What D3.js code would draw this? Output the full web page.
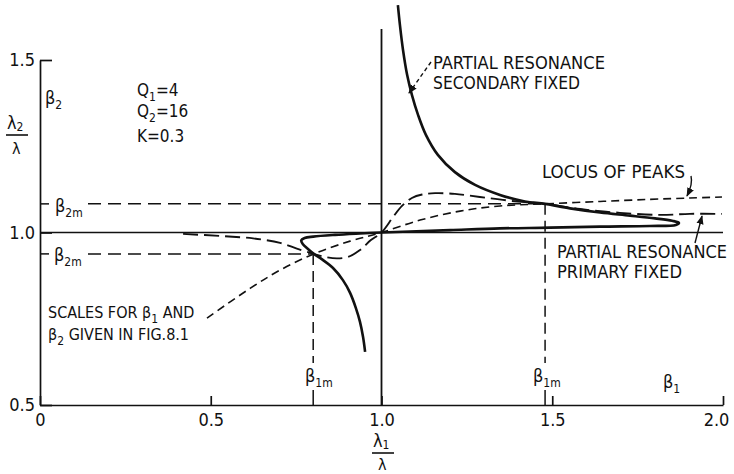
<!DOCTYPE html>
<html>
<head>
<meta charset="utf-8">
<script src="https://cdn.jsdelivr.net/npm/d3@7"></script>
<style>
body { margin: 0; background: #fff; }
svg { display: block; background: #fff; }
text { font-family: "DejaVu Sans Condensed", "Liberation Sans Narrow", "DejaVu Sans", sans-serif; fill: #111; }
</style>
</head>
<body>
<svg id="chart"></svg>
<script>
// points, as [lambda1/lambda, lambda2/lambda]
var secondaryFixed = [
  [1.048,1.659],[1.054,1.601],[1.063,1.529],[1.075,1.457],[1.089,1.399],[1.107,1.341],
  [1.130,1.283],[1.165,1.225],[1.215,1.175],[1.274,1.138],[1.347,1.109],[1.420,1.090],
  [1.479,1.083],[1.552,1.070],[1.640,1.058],[1.728,1.049],[1.801,1.041],[1.851,1.034],
  [1.871,1.028],[1.862,1.022],[1.786,1.019],[1.640,1.017],[1.493,1.014],[1.347,1.012],
  [1.201,1.007],[1.083,1.003],[1.000,1.000],[0.937,0.997],[0.864,0.993],[0.800,0.988],
  [0.775,0.984],[0.765,0.977],[0.770,0.966],[0.784,0.953],[0.802,0.938],[0.826,0.922],
  [0.858,0.897],[0.887,0.862],[0.908,0.825],[0.925,0.781],[0.937,0.741],[0.946,0.697],
  [0.952,0.654]
];
var primaryFixed = [
  [0.419,0.996],[0.527,0.990],[0.624,0.983],[0.703,0.970],[0.750,0.954],[0.802,0.938],
  [0.835,0.929],[0.870,0.925],[0.902,0.929],[0.937,0.949],[0.969,0.978],[1.000,1.000],
  [1.034,1.045],[1.060,1.077],[1.089,1.100],[1.119,1.110],[1.157,1.114],[1.215,1.112],
  [1.288,1.103],[1.376,1.092],[1.479,1.083],[1.581,1.068],[1.698,1.057],[1.815,1.051],
  [1.903,1.054],[1.997,1.054]
];
var locusPeaks = [
  [0.489,0.752],[0.615,0.838],[0.703,0.891],[0.802,0.938],[0.908,0.975],[1.000,1.000],
  [1.113,1.036],[1.230,1.062],[1.347,1.077],[1.479,1.083],[1.640,1.090],[1.786,1.096],
  [1.903,1.100],[1.997,1.103]
];
// double points (beta1m, beta2m), low and high
var beta1m = [0.80, 1.479];
var beta2m = [0.938, 1.083];
var xTicks = [0, 0.5, 1.0, 1.5, 2.0];
var xTickLabels = ['0', '0.5', '1.0', '1.5', '2.0'];
var yTicks = [0.5, 1.0, 1.5];
var yTickLabels = ['0.5', '1.0', '1.5'];
var unityTop = 1.59;

var width = 734, height = 474;

var x = d3.scaleLinear().domain([0, 2]).range([40, 723]);
var y = d3.scaleLinear().domain([0.5, 1.5]).range([405, 60]);

var svg = d3.select('#chart')
  .attr('width', width)
  .attr('height', height);

var defs = svg.append('defs');
defs.append('marker')
  .attr('id', 'arrow')
  .attr('viewBox', '0 0 10 10')
  .attr('refX', 9).attr('refY', 5)
  .attr('markerWidth', 9).attr('markerHeight', 9)
  .attr('markerUnits', 'userSpaceOnUse')
  .attr('orient', 'auto')
  .append('path')
    .attr('d', 'M0,1 L10,5 L0,9 Z')
    .attr('fill', '#111');

// axes
var xAxis = svg.append('g')
  .attr('transform', 'translate(0,' + y(0.5) + ')')
  .call(d3.axisBottom(x).tickValues(xTicks)
    .tickFormat(function(d, i) { return xTickLabels[i]; })
    .tickSizeInner(-9).tickSizeOuter(0).tickPadding(8));
var yAxis = svg.append('g')
  .attr('transform', 'translate(' + x(0) + ',0)')
  .call(d3.axisLeft(y).tickValues(yTicks)
    .tickFormat(function(d, i) { return yTickLabels[i]; })
    .tickSizeInner(-12).tickSizeOuter(0).tickPadding(5));
[xAxis, yAxis].forEach(function(a) {
  a.selectAll('path, line').attr('stroke', '#111').attr('stroke-width', 1.7);
  a.selectAll('text')
    .style('font-family', '"DejaVu Sans Condensed", "DejaVu Sans", sans-serif')
    .style('font-size', '18px')
    .attr('fill', '#111');
});
xAxis.selectAll('.tick text').filter(function(d) { return d === 2; }).attr('dx', '-7');

// unity lines
svg.append('line')
  .attr('x1', x(0)).attr('x2', x(2))
  .attr('y1', y(1)).attr('y2', y(1))
  .attr('stroke', '#111').attr('stroke-width', 1.6);
svg.append('line')
  .attr('x1', x(1)).attr('x2', x(1))
  .attr('y1', y(0.5)).attr('y2', y(unityTop))
  .attr('stroke', '#111').attr('stroke-width', 1.8);

// beta2m / beta1m guides
beta2m.forEach(function(b, i) {
  svg.append('line')
    .attr('x1', x(0)).attr('x2', x(0) + 9)
    .attr('y1', y(b)).attr('y2', y(b))
    .attr('stroke', '#111').attr('stroke-width', 1.5);
  svg.append('line')
    .attr('x1', x(0) + 48).attr('x2', x(beta1m[i]))
    .attr('y1', y(b)).attr('y2', y(b))
    .attr('stroke', '#111').attr('stroke-width', 1.5)
    .attr('stroke-dasharray', '13,7');
  svg.append('line')
    .attr('x1', x(beta1m[i])).attr('x2', x(beta1m[i]))
    .attr('y1', y(b)).attr('y2', y(0.5) - 42)
    .attr('stroke', '#111').attr('stroke-width', 1.5)
    .attr('stroke-dasharray', '11,6');
  svg.append('line')
    .attr('x1', x(beta1m[i])).attr('x2', x(beta1m[i]))
    .attr('y1', y(0.5) - 15).attr('y2', y(0.5))
    .attr('stroke', '#111').attr('stroke-width', 1.5);
});

// curves
var line = d3.line()
  .x(function(d) { return x(d[0]); })
  .y(function(d) { return y(d[1]); })
  .curve(d3.curveCatmullRom.alpha(0.5));

svg.append('path')
  .datum(locusPeaks)
  .attr('d', line)
  .attr('fill', 'none').attr('stroke', '#111').attr('stroke-width', 1.6)
  .attr('stroke-dasharray', '8,5');
svg.append('path')
  .datum(primaryFixed)
  .attr('d', line)
  .attr('fill', 'none').attr('stroke', '#111').attr('stroke-width', 1.9)
  .attr('stroke-dasharray', '15,6');
svg.append('path')
  .datum(secondaryFixed)
  .attr('d', line)
  .attr('fill', 'none').attr('stroke', '#111').attr('stroke-width', 2.6)
  .attr('stroke-linejoin', 'round');

// text helper: parts = [[text, isSub], ...]
function label(parts, px, py, size, len, shift) {
  shift = shift || 5;
  var t = svg.append('text')
    .attr('x', px).attr('y', py)
    .style('font-size', (size || 18) + 'px');
  var shifted = false;
  parts.forEach(function(p) {
    var s = t.append('tspan').text(p[0]);
    if (p[1]) {
      s.style('font-size', '12px');
      if (!shifted) { s.attr('dy', shift); shifted = true; }
    } else if (shifted) {
      s.attr('dy', -shift); shifted = false;
    }
  });
  if (len) t.attr('textLength', len).attr('lengthAdjust', 'spacingAndGlyphs');
  return t;
}

label([['Q'], ['1', 1], ['=4']], 137, 96, 17);
label([['Q'], ['2', 1], ['=16']], 137, 117, 17);
label([['K=0.3']], 137, 142, 17);

label([['\u03b2'], ['2', 1]], 45, 104);
label([['\u03b2'], ['2m', 1]], 55, 212);
label([['\u03b2'], ['2m', 1]], 54, 261);
label([['\u03b2'], ['1m', 1]], 305, 382);
label([['\u03b2'], ['1m', 1]], 533, 382);
label([['\u03b2'], ['1', 1]], 663, 388);

label([['PARTIAL RESONANCE']], 433, 69, 18, 172);
label([['SECONDARY FIXED']], 433, 89, 18, 147);
label([['LOCUS OF PEAKS']], 542, 178, 18, 143);
label([['PARTIAL RESONANCE']], 557, 258, 18, 170);
label([['PRIMARY FIXED']], 557, 278, 18, 125);
label([['SCALES FOR \u03b2'], ['1', 1], [' AND']], 48, 318, 16);
label([['\u03b2'], ['2', 1], [' GIVEN IN FIG.8.1']], 48, 340, 16);

// fraction axis titles
function fraction(cx, top, lo) {
  label([['\u03bb'], [arguments[3], 1]], cx - 10, top + 13, 18, null, 2);
  svg.append('line')
    .attr('x1', cx - 11).attr('x2', cx + 11)
    .attr('y1', top + 19).attr('y2', top + 19)
    .attr('stroke', '#111').attr('stroke-width', 1.6);
  label([['\u03bb']], cx - 5, top + lo, 16);
}
fraction(17, 116, 38, '2');
fraction(383, 434, 36, '1');

// leaders
svg.append('path')
  .attr('d', 'M431,62 L409,93')
  .attr('fill', 'none').attr('stroke', '#111').attr('stroke-width', 1.4)
  .attr('stroke-dasharray', '4,3')
  .attr('marker-end', 'url(#arrow)');
svg.append('path')
  .attr('d', 'M691,176 Q693,184 687,196')
  .attr('fill', 'none').attr('stroke', '#111').attr('stroke-width', 1.4)
  .attr('marker-end', 'url(#arrow)');
svg.append('path')
  .attr('d', 'M695,243 L702,216')
  .attr('fill', 'none').attr('stroke', '#111').attr('stroke-width', 1.4)
  .attr('marker-end', 'url(#arrow)');
</script>
</body>
</html>
